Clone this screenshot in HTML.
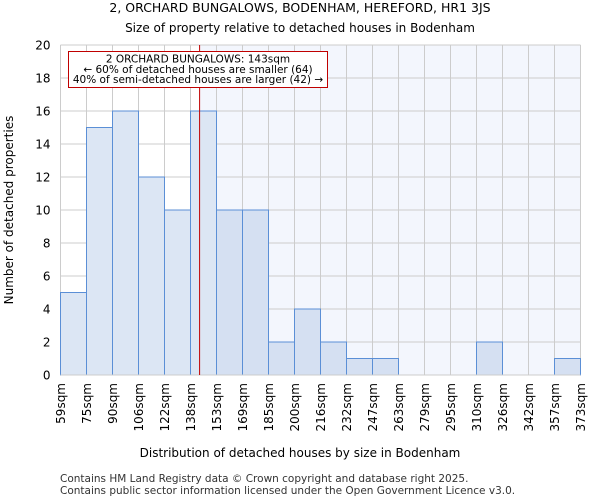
<!DOCTYPE html>
<html><head><meta charset="utf-8"><style>
body{margin:0;background:#fff;font-family:"DejaVu Sans","Liberation Sans",sans-serif;}
</style></head><body>
<svg width="600" height="500" xmlns="http://www.w3.org/2000/svg" font-family="DejaVu Sans, Liberation Sans, sans-serif">
<text x="300" y="12" text-anchor="middle" font-size="12.5">2, ORCHARD BUNGALOWS, BODENHAM, HEREFORD, HR1 3JS</text>
<text x="300" y="32" text-anchor="middle" font-size="12">Size of property relative to detached houses in Bodenham</text>
<g id="plot"></g>
<text x="300" y="457" text-anchor="middle" font-size="12">Distribution of detached houses by size in Bodenham</text>
<text transform="translate(13,210) rotate(-90)" text-anchor="middle" font-size="12">Number of detached properties</text>
<text x="60" y="482" font-size="10.5" fill="#333">Contains HM Land Registry data © Crown copyright and database right 2025.</text>
<text x="60" y="494" font-size="10.5" fill="#333">Contains public sector information licensed under the Open Government Licence v3.0.</text>
</svg>
<script>
const binLabels=["59sqm","75sqm","90sqm","106sqm","122sqm","138sqm","153sqm","169sqm","185sqm","200sqm","216sqm","232sqm","247sqm","263sqm","279sqm","295sqm","310sqm","326sqm","342sqm","357sqm","373sqm"];
const counts=[5,15,16,12,10,16,10,10,2,4,2,1,1,0,0,0,2,0,0,1];
const yTicks=[0,2,4,6,8,10,12,14,16,18,20];
const markerBinIndex=5, markerFrac=0.35;
const NS="http://www.w3.org/2000/svg";
const L=60.5,R=580.5,T=45,B=375,yMax=20;
const bw=(R-L)/counts.length;
const xs=i=>L+i*bw;
const ys=v=>B-(v/yMax)*(B-T);
const g=document.getElementById('plot');
function mk(t,a){const e=document.createElementNS(NS,t);for(const k in a)e.setAttribute(k,a[k]);g.appendChild(e);return e;}
const mx=xs(markerBinIndex+markerFrac);
let e=mk('rect',{x:mx,y:T,width:R-mx,height:B-T,fill:'#f3f6fd'});


yTicks.forEach(v=>{
 let l=mk('line',{x1:L,x2:R,y1:ys(v),y2:ys(v),stroke:'#cccccc'});
 
 
 let t=mk('text',{x:L-10,y:ys(v)+4.5,'text-anchor':'end','font-size':'12'});t.textContent=v;
 
 
});
binLabels.forEach((s,i)=>{
 let l=mk('line',{x1:xs(i),x2:xs(i),y1:T,y2:B,stroke:'#cccccc'});
 
 
 let t=mk('text',{transform:`translate(${xs(i)+4.5},383) rotate(-90)`,'text-anchor':'end','font-size':'12'});t.textContent=s;
 
 
});
counts.forEach((v,i)=>{
 let r=mk('rect',{x:xs(i),y:ys(v),width:bw,height:B-ys(v),fill:i>=markerBinIndex+1?'#d5e0f2':'#dce6f4',stroke:'#5b8fd6','stroke-width':1});
 
 
});
let ax=mk('line',{x1:L,x2:R,y1:B,y2:B,stroke:'#cccccc'});


let ml=mk('line',{x1:mx,x2:mx,y1:T,y2:B,stroke:'#c00000','stroke-width':1});


let box=mk('rect',{x:68.5,y:51.5,width:259,height:36,fill:'#fff',stroke:'#c00000'});


["2 ORCHARD BUNGALOWS: 143sqm","← 60% of detached houses are smaller (64)","40% of semi-detached houses are larger (42) →"].forEach((s,i)=>{
 let t=mk('text',{x:198,y:62.5+i*10.3,'text-anchor':'middle','font-size':'10.5'});t.textContent=s;
 
 
});
</script>
</body></html>
